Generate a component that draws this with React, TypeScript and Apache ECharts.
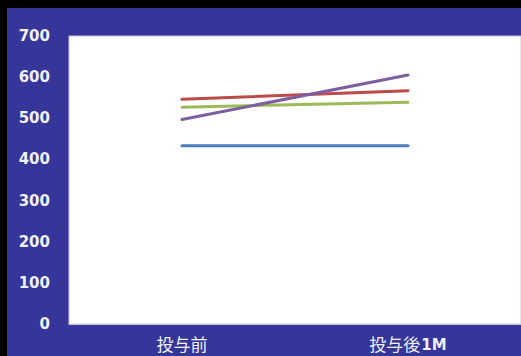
import React, { useEffect, useRef } from "react";
import * as echarts from "echarts";

const categories = ["投与前", "投与後1M"];
const seriesBlue = [433, 433];
const seriesRed = [546, 567];
const seriesGreen = [527, 539];
const seriesPurple = [497, 605];
const yTicks = { min: 0, max: 700, interval: 100 };

export default function App() {
  const ref = useRef<HTMLDivElement>(null);

  useEffect(() => {
    document.body.style.margin = "0";
    const chart = echarts.init(ref.current!, null, { renderer: "svg" });
    const line = (data: number[], color: string) => ({
      type: "line",
      data,
      symbol: "none",
      lineStyle: { color, width: 3, cap: "round" },
      itemStyle: { color },
    });
    chart.setOption({
      animation: false,
      backgroundColor: "#35359a",
      textStyle: { fontFamily: "DejaVu Sans" },
      grid: {
        left: 62,
        top: 28,
        right: 0,
        bottom: 32,
        show: true,
        backgroundColor: "#ffffff",
        borderColor: "#c8c8d8",
        borderWidth: 1,
      },
      xAxis: {
        type: "category",
        data: categories,
        boundaryGap: true,
        axisLine: { show: true, lineStyle: { color: "#c8c8d0" } },
        axisTick: { show: false },
        axisLabel: {
          color: "#f0f0f8",
          fontSize: 17,
          lineHeight: 18,
          fontFamily: "Noto Sans CJK JP",
          margin: 10,
          // latin part of a category (e.g. "1M") is set bold
          formatter: (v: string) => v.replace(/([0-9A-Za-z]+)/g, "{b|$1}"),
          rich: {
            b: {
              color: "#f0f0f8",
              fontSize: 15,
              lineHeight: 18,
              fontWeight: "bold",
              fontFamily: "DejaVu Sans",
              padding: [4, 0, 0, 1],
            },
          },
        },
      },
      yAxis: {
        type: "value",
        min: yTicks.min,
        max: yTicks.max,
        interval: yTicks.interval,
        axisLine: { show: false },
        axisTick: { show: false },
        splitLine: { show: false },
        axisLabel: { color: "#f0f0f8", fontSize: 15, fontWeight: "bold", margin: 19 },
      },
      series: [
        line(seriesBlue, "#4a7ebb"),
        line(seriesGreen, "#9bbb59"),
        line(seriesRed, "#be4b48"),
        line(seriesPurple, "#7d5fa0"),
      ],
    });
    return () => chart.dispose();
  }, []);

  return (
    <div style={{ position: "fixed", left: 0, top: 0, width: 521, height: 356, background: "#000" }}>
      <div ref={ref} style={{ position: "absolute", left: 7, top: 8, width: 514, height: 348 }} />
    </div>
  );
}
